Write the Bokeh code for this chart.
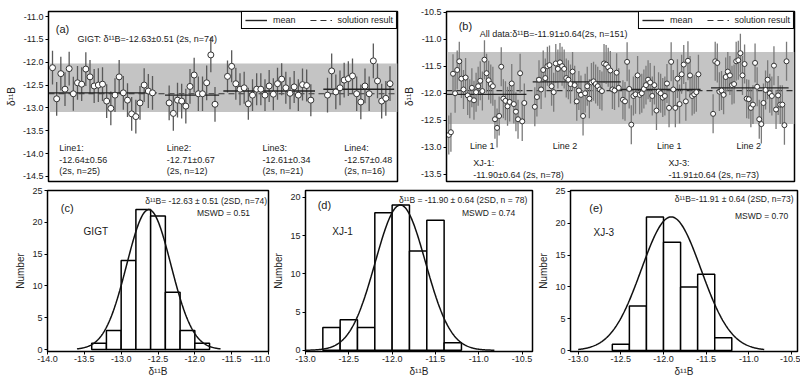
import numpy as np
from bokeh.plotting import figure
from bokeh.models import (Range1d, FixedTicker, PrintfTickFormatter, Legend, LegendItem,
                          BoxAnnotation)
from bokeh.layouts import column, row
from bokeh.embed import file_html
from bokeh.resources import INLINE
from bokeh.core.properties import value

FONT = "Liberation Sans"

# ---------------- panel (a): GIGT, four lines ----------------
a_line1 = [-12.12, -12.80, -12.25, -12.59, -12.14, -12.69, -12.45, -12.48, -12.15, -12.32,
           -12.52, -12.50, -12.48, -12.85, -13.01, -12.72, -12.32, -12.67, -12.83, -13.13,
           -13.19, -12.89, -12.50, -12.63, -12.67]
a_line2 = [-12.89, -13.12, -12.83, -12.85, -12.96, -12.53, -12.28, -12.69, -12.69, -12.45,
           -11.84, -12.92]
a_line3 = [-12.31, -12.09, -12.47, -12.59, -12.56, -12.91, -12.72, -12.59, -12.59, -12.72,
           -12.52, -12.70, -12.47, -12.37, -12.56, -12.68, -12.54, -12.72, -12.49, -12.51,
           -12.83]
a_line4 = [-12.72, -12.19, -12.65, -12.56, -12.39, -12.36, -12.30, -12.69, -12.87, -12.52,
           -12.69, -11.97, -12.41, -12.85, -12.79, -12.47]
a_err = [0.37, 0.38, 0.35, 0.38]
a_start = [0, 28, 42, 66]
a_means = [-12.67, -12.72, -12.63, -12.59]
a_solution = -12.69
a_band = (-13.09, -12.03)
a_ticks = [-14.5, -14.0, -13.5, -13.0, -12.5, -12.0, -11.5, -11.0]
a_line_texts = ["Line1:\n-12.64\u00b10.56\n(2s, n=25)", "Line2:\n-12.71\u00b10.67\n(2s, n=12)",
                "Line3:\n-12.61\u00b10.34\n(2s, n=21)", "Line4:\n-12.57\u00b10.48\n(2s, n=16)"]

# ---------------- panel (b): XJ-1 and XJ-3 ----------------
b_xj1_l1 = [-12.77, -12.72, -11.64, -12.00, -11.57, -11.41, -11.73, -11.93, -11.71, -12.04,
            -12.10, -11.90, -12.13, -11.98, -11.87, -11.77, -11.96, -11.38, -11.63, -11.76,
            -11.83, -11.87, -12.48, -12.64, -12.42, -11.51, -12.10, -12.14, -12.24, -12.16,
            -11.82, -12.20, -12.34, -12.48, -11.63, -12.52, -12.18]
b_xj1_l2 = [-12.25, -12.07, -11.75, -11.93, -11.57, -11.72, -11.50, -11.48, -11.87, -11.98,
            -11.45, -11.55, -11.43, -11.50, -11.55, -11.72, -11.75, -11.83, -11.60, -11.85,
            -12.15, -11.95, -12.03, -12.42, -12.00, -11.87, -12.10, -11.80, -11.78, -11.83,
            -11.87, -11.93, -11.96, -11.45, -11.47, -11.52, -11.58, -11.93, -11.95, -11.62,
            -11.90]
b_xj3_l1 = [-12.12, -12.15, -11.42, -11.92, -12.58, -12.05, -12.02, -11.67, -12.03, -12.00,
            -11.92, -11.85, -11.75, -11.80, -12.05, -11.85, -12.32, -11.97, -12.00, -12.08,
            -12.05, -11.82, -12.27, -11.42, -11.93, -12.27, -11.73, -12.20, -11.65, -11.47,
            -12.15, -11.40, -11.67, -12.05, -12.02, -11.98, -11.65]
b_xj3_l2 = [-12.38, -11.41, -11.44, -11.97, -11.95, -12.03, -11.70, -11.60, -11.67, -11.85,
            -11.83, -11.41, -11.39, -11.26, -11.67, -11.46, -12.10, -12.11, -12.27, -12.21,
            -11.44, -11.88, -12.48, -12.57, -12.18, -11.94, -11.75, -12.00, -12.05, -11.49,
            -12.30, -12.04, -12.21, -12.21, -12.59, -11.41]
b_err = [0.36, 0.36, 0.36, 0.36]
b_start = [0, 41, 83, 126]
b_means = [-12.02, -11.79, -11.93, -11.90]
b_solution = -11.95
b_band = (-12.57, -11.24)
b_ticks = [-13.5, -13.0, -12.5, -12.0, -11.5, -11.0, -10.5]
b_line_names = ["Line 1", "Line 2", "Line 1", "Line 2"]
b_sample_texts = ["XJ-1:\n-11.90\u00b10.64 (2s, n=78)", "XJ-3:\n-11.91\u00b10.64 (2s, n=73)"]

# ---------------- histograms (c), (d), (e) ----------------
bin_w = 0.2
c_bin_left = [-13.4, -13.2, -13.0, -12.8, -12.6, -12.4, -12.2, -12.0]
c_counts = [1, 3, 14, 22, 21, 9, 3, 1]
d_bin_left = [-12.8, -12.6, -12.4, -12.2, -12.0, -11.8, -11.6, -11.4]
d_counts = [3, 4, 3, 18, 19, 13, 17, 1]
e_bin_left = [-12.6, -12.4, -12.2, -12.0, -11.8, -11.6, -11.4]
e_counts = [1, 7, 21, 17, 10, 12, 2]
# fitted normal curves: mean, sigma, peak, plotted limits
c_fit = (-12.625, 0.30, 22, -13.60, -11.65)
d_fit = (-11.905, 0.29, 19, -13.00, -10.82)
e_fit = (-11.91, 0.35, 21, -13.00, -10.82)
c_xticks = [-14.0, -13.5, -13.0, -12.5, -12.0, -11.5, -11.0]
de_xticks = [-13.0, -12.5, -12.0, -11.5, -11.0, -10.5]
c_yticks = [0, 5, 10, 15, 20, 25]
d_yticks = [0, 5, 10, 15, 20]
e_yticks = [0, 5, 10, 15, 20, 25]


def base_fig(w, h, xr, yr, bl, br, bt, bb):
    p = figure(width=w, height=h, x_range=Range1d(*xr), y_range=Range1d(*yr),
               output_backend="svg", toolbar_location=None,
               min_border_left=bl, min_border_right=br, min_border_top=bt, min_border_bottom=bb)
    p.grid.visible = False
    p.outline_line_color = "black"
    p.outline_line_width = 1.5
    p.outline_line_alpha = 1
    p.background_fill_color = "white"
    p.border_fill_color = "white"
    for ax in p.axis:
        ax.axis_line_color = "black"
        ax.axis_line_width = 1
        ax.major_tick_out = 3
        ax.major_tick_in = 0
        ax.minor_tick_line_color = None
        ax.major_label_text_font = FONT
        ax.major_label_text_font_size = "9px"
        ax.major_label_text_color = "#222222"
        ax.major_label_standoff = 2
        ax.axis_label_text_font = FONT
        ax.axis_label_text_font_size = "10px"
        ax.axis_label_text_font_style = "normal"
        ax.axis_label_text_color = "#222222"
        ax.axis_label_standoff = 3
    return p


def add_text(p, x, y, txt, size="9px", align="left", baseline="middle"):
    p.text(x=x, y=y, text=txt, text_font=value(FONT), text_font_size=size,
           text_align=align, text_baseline=baseline, text_color="#1a1a1a",
           text_line_height=1.15)


def scatter_panel(p, groups, starts, errs, means, sol, band, err_color, size):
    p.add_layout(BoxAnnotation(bottom=band[0], top=band[1], fill_color="#c4c4c4",
                               fill_alpha=1, line_color=None, level="underlay"))
    xr = p.x_range
    r_sol = p.segment(x0=[xr.start], y0=[sol], x1=[xr.end], y1=[sol], line_color="#333333",
                      line_width=1.2, line_dash="6 4")
    xs_all, ys_all = [], []
    r_mean = None
    for g, s, e, m in zip(groups, starts, errs, means):
        x = s + np.arange(len(g))
        y = np.array(g)
        p.segment(x0=x, y0=y - e, x1=x, y1=y + e, line_color=err_color, line_width=1.3)
        r = p.segment(x0=[x[0] - 1], y0=[m], x1=[x[-1] + 1], y1=[m], line_color="#222222",
                      line_width=1.4)
        if r_mean is None:
            r_mean = r
        xs_all.append(x)
        ys_all.append(y)
    p.scatter(np.concatenate(xs_all), np.concatenate(ys_all), size=size, marker="circle",
              fill_color="white", line_color="#333333", line_width=1)
    leg = Legend(items=[LegendItem(label="mean", renderers=[r_mean]),
                        LegendItem(label="solution result", renderers=[r_sol])],
                 location="top_right", orientation="horizontal", margin=0, padding=3,
                 spacing=14, glyph_width=22, glyph_height=10, label_height=10,
                 label_standoff=6, label_text_font=FONT, label_text_font_size="9px",
                 label_text_color="#222222",
                 border_line_color="black", border_line_width=1.5, border_line_alpha=1,
                 background_fill_color="white", background_fill_alpha=1)
    p.add_layout(leg)
    p.xaxis.visible = False
    p.yaxis.axis_label = "\u03b4\u00b9\u00b9B"


# ---- (a)
pa = base_fig(400, 184, (-0.96, 82.8), (-14.61, -10.89), 48, 3, 11, 3)
scatter_panel(pa, [a_line1, a_line2, a_line3, a_line4], a_start, a_err, a_means,
              a_solution, a_band, "#5a5a5a", 6)
pa.yaxis.ticker = FixedTicker(ticks=a_ticks)
pa.yaxis.formatter = PrintfTickFormatter(format="%.1f")
add_text(pa, [0.8], [-11.27], ["(a)"], size="11px")
add_text(pa, [6.0], [-11.49], ["GIGT: \u03b4\u00b9\u00b9B=-12.63\u00b10.51 (2s, n=74)"])
add_text(pa, [1.6, 27.4, 50.4, 70.0], [-13.77] * 4, a_line_texts, baseline="top")

# ---- (b)
pb = base_fig(400, 184, (-1.1, 164.8), (-13.63, -10.49), 38, 6, 11, 3)
scatter_panel(pb, [b_xj1_l1, b_xj1_l2, b_xj3_l1, b_xj3_l2], b_start, b_err, b_means,
              b_solution, b_band, "#7a7a7a", 5)
pb.yaxis.ticker = FixedTicker(ticks=b_ticks)
pb.yaxis.formatter = PrintfTickFormatter(format="%.1f")
add_text(pb, [4.7], [-10.76], ["(b)"], size="11px")
add_text(pb, [14.7], [-10.91], ["All data:\u03b4\u00b9\u00b9B=-11.91\u00b10.64(2s, n=151)"])
add_text(pb, [10.1, 49.6, 99.2, 137.2], [-12.98] * 4, b_line_names)
add_text(pb, [11.6, 104.7], [-13.20] * 2, b_sample_texts, baseline="top")


# ---- histograms
def hist_panel(w, xr, yr, bl, br, bin_left, counts, fit, xticks, yticks):
    p = base_fig(w, 195, xr, yr, bl, br, 6, 5)
    left = np.array(bin_left)
    p.quad(left=left, right=left + bin_w, bottom=0, top=counts, fill_color="white",
           line_color="black", line_width=1.5)
    mu, sig, peak, lo, hi = fit
    xs = np.linspace(lo, hi, 300)
    p.line(xs, peak * np.exp(-0.5 * ((xs - mu) / sig) ** 2), line_color="#111111",
           line_width=1.5)
    p.xaxis.ticker = FixedTicker(ticks=xticks)
    p.xaxis.formatter = PrintfTickFormatter(format="%.1f")
    p.yaxis.ticker = FixedTicker(ticks=yticks)
    p.xaxis.axis_label = "\u03b4\u00b9\u00b9B"
    p.yaxis.axis_label = "Number"
    p.xaxis.axis_label_standoff = 1
    p.xaxis.major_label_standoff = 1
    return p


pc = hist_panel(270, (-14.0, -11.0), (-0.3, 25.0), 47, 2, c_bin_left, c_counts, c_fit,
                c_xticks, c_yticks)
add_text(pc, [-13.82], [22.2], ["(c)"], size="11px")
add_text(pc, [-11.02], [23.4], ["\u03b4\u00b9\u00b9B= -12.63 \u00b1 0.51 (2SD, n=74)"],
         size="8.5px", align="right")
add_text(pc, [-11.25], [21.4], ["MSWD = 0.51"], size="8.5px", align="right")
add_text(pc, [-13.51], [18.5], ["GIGT"], size="10px")

pd_ = hist_panel(265, (-13.0, -10.38), (-0.15, 20.9), 33, 3, d_bin_left, d_counts, d_fit,
                 de_xticks, d_yticks)
add_text(pd_, [-12.86], [19.0], ["(d)"], size="11px")
add_text(pd_, [-10.44], [19.7], ["\u03b4\u00b9\u00b9B = -11.90 \u00b1 0.64 (2SD, n = 78)"],
         size="8.5px", align="right")
add_text(pd_, [-10.58], [17.9], ["MSWD = 0.74"], size="8.5px", align="right")
add_text(pd_, [-12.69], [15.5], ["XJ-1"], size="10px")

pe = hist_panel(265, (-13.09, -10.43), (-0.15, 25.15), 29, 3, e_bin_left, e_counts, e_fit,
                de_xticks, e_yticks)
add_text(pe, [-12.87], [22.4], ["(e)"], size="11px")
add_text(pe, [-10.475], [23.8], ["\u03b4\u00b9\u00b9B=-11.91 \u00b1 0.64 (2SD, n=73)"],
         size="8.5px", align="right")
add_text(pe, [-10.54], [21.1], ["MSWD = 0.70"], size="8.5px", align="right")
add_text(pe, [-12.82], [18.6], ["XJ-3"], size="10px")

layout = column(row(pa, pb, spacing=0), row(pc, pd_, pe, spacing=0), spacing=0)

with open("out.html", "w") as f:
    f.write(file_html(layout, INLINE))
